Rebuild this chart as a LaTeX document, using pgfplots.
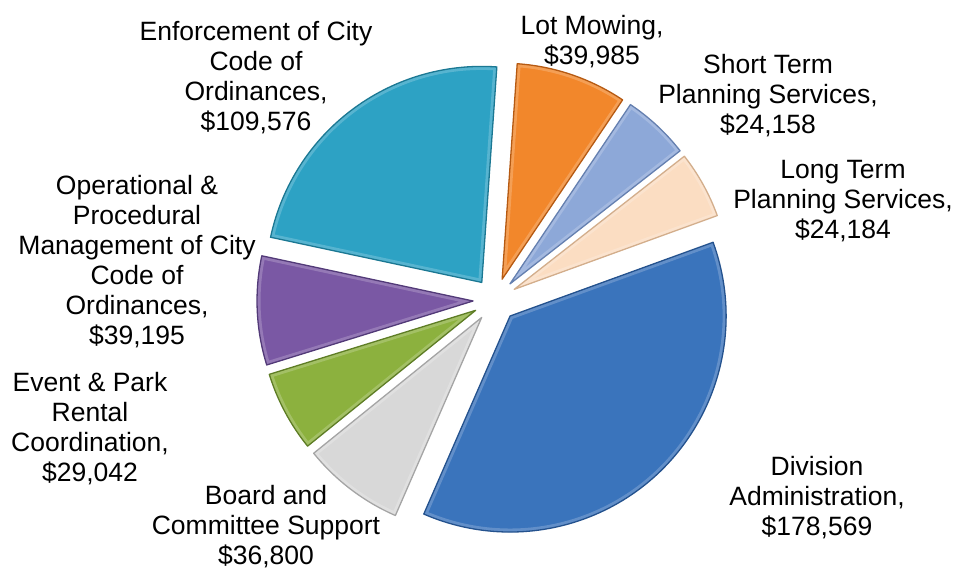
\documentclass[border=0pt]{standalone}
\usepackage{fontspec}
\setmainfont{Liberation Sans}
\usepackage{pgfplots}
\pgfplotsset{compat=1.18}
\usetikzlibrary{calc}

\definecolor{c1}{HTML}{F2872B}\definecolor{d1}{HTML}{B65A12}
\definecolor{c2}{HTML}{8DA8D8}\definecolor{d2}{HTML}{6580B0}
\definecolor{c3}{HTML}{FBDDC2}\definecolor{d3}{HTML}{D3AE8C}
\definecolor{c4}{HTML}{3A74BC}\definecolor{d4}{HTML}{24528E}
\definecolor{c5}{HTML}{D8D8D8}\definecolor{d5}{HTML}{A5A5A5}
\definecolor{c6}{HTML}{8CB13E}\definecolor{d6}{HTML}{5E7D25}
\definecolor{c7}{HTML}{7A58A4}\definecolor{d7}{HTML}{523A78}
\definecolor{c8}{HTML}{2DA2C4}\definecolor{d8}{HTML}{1B7893}

\tikzset{lbl/.style={font=\fontsize{26.5}{30}\selectfont, align=center, text=black, inner sep=0pt}}

% values: Lot Mowing, Short Term, Long Term, Division Admin, Board, Event, Operational, Enforcement
\def\pievalues{39985,24158,24184,178569,36800,29042,39195,109576}
\gdef\total{0}
\foreach \v in \pievalues {\xdef\total{\fpeval{\total+\v}}}
\gdef\cum{0}
\foreach \v [count=\i] in \pievalues {%
  \xdef\sA{\fpeval{86-360*\cum/\total}}%
  \xdef\cum{\fpeval{\cum+\v}}%
  \xdef\sB{\fpeval{86-360*\cum/\total}}%
  \expandafter\xdef\csname sa\i\endcsname{\sA}%
  \expandafter\xdef\csname sb\i\endcsname{\sB}%
  \expandafter\xdef\csname sm\i\endcsname{\fpeval{(\sA+\sB)/2}}%
}
\newcommand\slicepath[1]{($(axis cs:495,273)+(\csname sm#1\endcsname:22pt)$) -- ++(\csname sa#1\endcsname:216pt)
    arc[start angle=\csname sa#1\endcsname, end angle=\csname sb#1\endcsname, radius=216pt] -- cycle}

\begin{document}
\begin{tikzpicture}
\begin{axis}[
  at={(0,0)}, anchor=south west,
  width=958pt, height=573pt, scale only axis,
  xmin=0, xmax=958, ymin=0, ymax=573,
  hide axis, clip=false
]
\pgfplotsinvokeforeach{1,...,8}{
  \fill[c#1] \slicepath{#1};
  \begin{scope}
    \clip \slicepath{#1};
    \draw[c#1!55!white, line width=7pt, opacity=0.45, line join=round] \slicepath{#1};
  \end{scope}
  \draw[d#1, line width=1.3pt, line join=round] \slicepath{#1};
}
\node[lbl] at (axis cs:256,495) {Enforcement of City\\Code of\\Ordinances,\\\$109,576};
\node[lbl] at (axis cs:592,531) {Lot Mowing,\\\$39,985};
\node[lbl] at (axis cs:768,477) {Short Term\\Planning Services,\\\$24,158};
\node[lbl] at (axis cs:843,372) {Long Term\\Planning Services,\\\$24,184};
\node[lbl] at (axis cs:137,311) {Operational \&\\Procedural\\Management of City\\Code of\\Ordinances,\\\$39,195};
\node[lbl] at (axis cs:90,144) {Event \& Park\\Rental\\Coordination,\\\$29,042};
\node[lbl] at (axis cs:266,46) {Board and\\Committee Support\\\$36,800};
\node[lbl] at (axis cs:817,75) {Division\\Administration,\\\$178,569};
\end{axis}
\pgfresetboundingbox
\path (0,0) rectangle (958pt,573pt);
\end{tikzpicture}
\end{document}
